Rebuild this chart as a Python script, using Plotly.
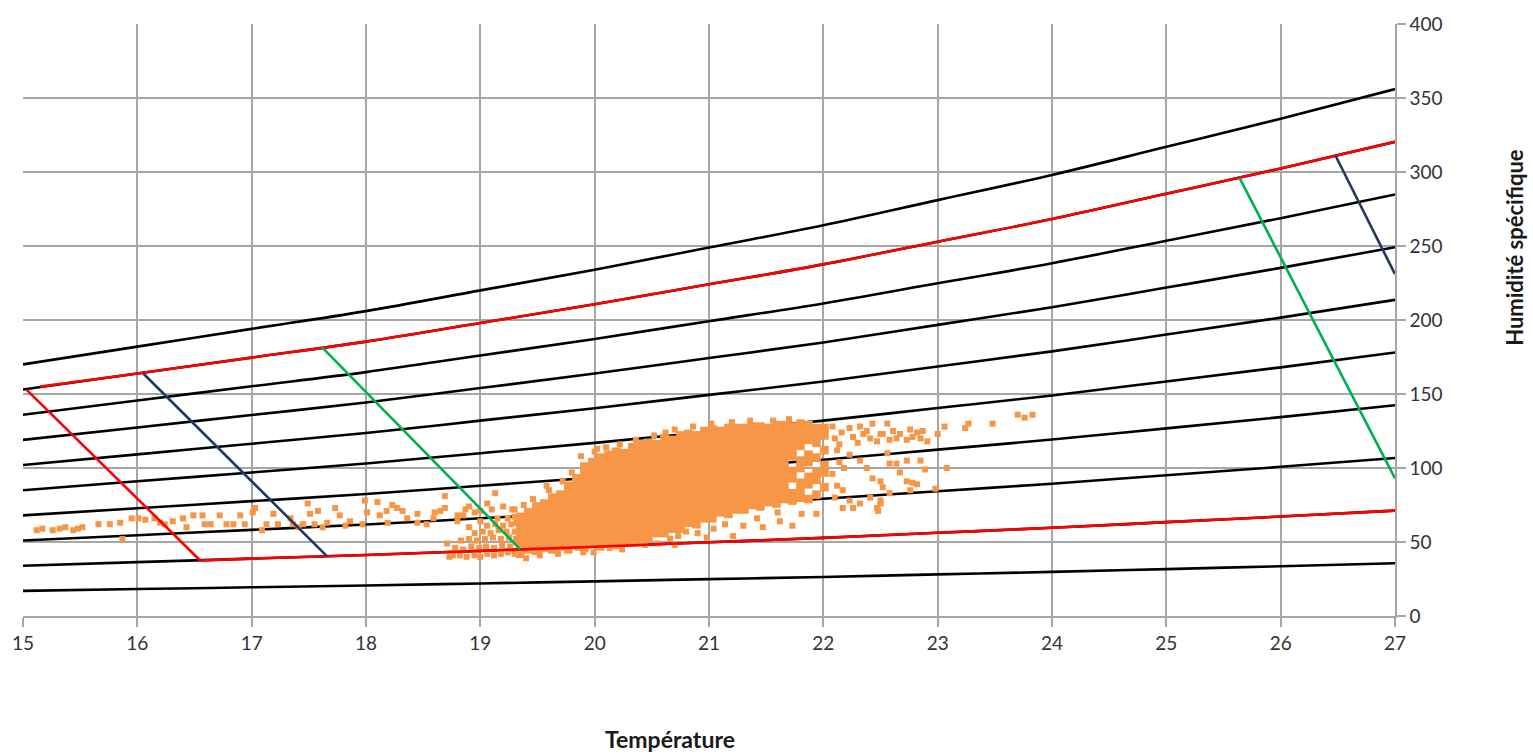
import plotly.graph_objects as go

# ---------------- data ----------------
temps = [15, 16, 17, 18, 19, 20, 21, 22, 23, 24, 25, 26, 27]

rh10 = [17, 18.2, 19.4, 20.6, 22, 23.4, 24.9, 26.4, 28.1, 29.8, 31.7, 33.6, 35.6]
rh20 = [34, 36.4, 38.8, 41.2, 44, 46.8, 49.8, 52.8, 56.2, 59.6, 63.4, 67.2, 71.2]
rh30 = [51, 54.6, 58.2, 61.8, 66, 70.2, 74.7, 79.2, 84.3, 89.4, 95.1, 100.8, 106.8]
rh40 = [68, 72.8, 77.6, 82.4, 88, 93.6, 99.6, 105.6, 112.4, 119.2, 126.8, 134.4, 142.4]
rh50 = [85, 91, 97, 103, 110, 117, 124.5, 132, 140.5, 149, 158.5, 168, 178]
rh60 = [102, 109.2, 116.4, 123.6, 132, 140.4, 149.4, 158.4, 168.6, 178.8, 190.2, 201.6, 213.6]
rh70 = [119, 127.4, 135.8, 144.2, 154, 163.8, 174.3, 184.8, 196.7, 208.6, 221.9, 235.2, 249.2]
rh80 = [136, 145.6, 155.2, 164.8, 176, 187.2, 199.2, 211.2, 224.8, 238.4, 253.6, 268.8, 284.8]
rh90 = [153, 163.8, 174.6, 185.4, 198, 210.6, 224.1, 237.6, 252.9, 268.2, 285.3, 302.4, 320.4]
rh100 = [170, 182, 194, 206, 220, 234, 249, 264, 281, 298, 317, 336, 356]

red_top_x = [15.15, 16, 17, 18, 19, 20, 21, 22, 23, 24, 25, 26, 27]
red_top_y = [155, 163.8, 174.6, 185.4, 198, 210.6, 224.1, 237.6, 252.9, 268.2, 285.3, 302.4, 320.4]
red_bot_x = [16.55, 17, 18, 19, 20, 21, 22, 23, 24, 25, 26, 27]
red_bot_y = [37.5, 38.8, 41.2, 44, 46.8, 49.8, 52.8, 56.2, 59.6, 63.4, 67.2, 71.2]

red_diag_x = [15.03, 16.55]
red_diag_y = [153, 37.5]
navy_left_x = [16.05, 17.66]
navy_left_y = [164, 40.3]
green_left_x = [17.61, 19.35]
green_left_y = [182, 45]
green_right_x = [25.64, 27.0]
green_right_y = [296, 93]
navy_right_x = [26.48, 27.0]
navy_right_y = [311, 231]

# measurements: left tail
tail_x = [15.12, 15.17, 15.26, 15.32, 15.37, 15.44, 15.48, 15.52, 15.66, 15.76,
          15.85, 15.87, 15.95, 16.01, 16.07, 16.15, 16.20, 16.24, 16.31, 16.40,
          16.43, 16.49, 16.57, 16.59, 16.64, 16.72, 16.78, 16.84, 16.90, 16.94,
          17.01, 17.03, 17.09, 17.13, 17.19, 17.23, 17.34, 17.36, 17.41, 17.45,
          17.49, 17.51, 17.55, 17.58, 17.62, 17.66, 17.73, 17.77, 17.82, 17.86,
          17.99, 18.01, 18.10, 18.12, 18.18, 18.23, 18.27, 18.32, 18.36, 18.45,
          18.53, 18.60, 18.65, 18.69, 18.69, 18.71, 18.73, 18.80]
tail_y = [58, 59, 58, 59, 60, 58, 59, 60, 62, 62,
          63, 52, 66, 66, 65, 66, 63, 62, 64, 66,
          60, 68, 68, 62, 62, 68, 62, 62, 68, 62,
          70, 73, 58, 62, 69, 62, 66, 62, 60, 62,
          76, 69, 62, 71, 60, 63, 73, 68, 61, 64,
          78, 70, 77, 68, 71, 75, 73, 71, 66, 63,
          62, 70, 71, 81, 73, 49, 40, 64]

# lower-left cluster
ll_x = [18.76, 18.82, 18.88, 18.95, 19.00, 19.06, 19.12, 19.18, 19.24, 19.30,
        18.78, 18.85, 18.92, 18.99, 19.05, 19.12, 19.19, 19.26,
        18.83, 18.90, 18.97, 19.04, 19.11, 19.18, 19.25, 19.31,
        18.95, 19.02, 19.09, 19.16, 19.23, 19.30,
        19.06, 19.13, 19.20, 19.27, 19.32,
        19.15, 19.24, 19.30, 18.90, 19.00,
        18.80, 18.87, 18.95, 19.10, 19.20, 19.28]
ll_y = [41, 41, 40, 41, 40, 42, 41, 42, 43, 42,
        46, 45, 47, 46, 47, 46, 48, 47,
        51, 52, 51, 52, 53, 52, 53, 52,
        56, 57, 56, 58, 57, 57,
        61, 62, 61, 62, 63,
        66, 66, 67, 60, 64,
        68, 72, 70, 72, 74, 72]

ex_x = [17.97, 18.19, 18.45, 18.90, 19.06, 19.13, 18.59, 18.85, 19.00, 19.68, 20.13, 19.85, 19.99]
ex_y = [62, 63, 69, 74, 76, 83, 66, 68, 71, 42, 46, 46, 43]

# ragged edge points around the core
edge_x = [19.30, 19.38, 19.46, 19.60, 19.72, 19.80, 19.88, 20.00, 20.10, 20.22, 20.36, 20.52,
          20.70, 20.86, 21.02, 21.20, 21.36, 21.56, 21.70, 19.52, 19.90, 20.24, 20.44, 19.40,
          19.58, 20.02, 20.62, 20.80, 21.14, 21.60]
edge_y = [72, 75, 79, 85, 91, 97, 108, 111, 114, 116, 119, 122,
          126, 128, 130, 131, 132, 132, 133, 41, 43, 45, 48, 39,
          88, 113, 124, 57, 62, 70]

# dense core, one list of humidity values per temperature column
core_x = [19.35, 19.42, 19.49, 19.56, 19.63, 19.70, 19.77, 19.84, 19.91, 19.98,
          20.05, 20.12, 20.19, 20.26, 20.33, 20.40, 20.47, 20.54, 20.61, 20.68,
          20.75, 20.82, 20.89, 20.96, 21.03, 21.10, 21.17, 21.24, 21.31, 21.38,
          21.45, 21.52, 21.59, 21.66, 21.73, 21.80, 21.87, 21.94, 22.01]
core_y = [
    [42, 47, 52, 57, 62, 67],
    [45, 50, 55, 60, 65, 70],
    [44, 49, 54, 59, 64, 69, 74],
    [46, 51, 56, 61, 66, 71, 76],
    [45, 50, 55, 60, 65, 70, 75, 80],
    [47, 52, 57, 62, 67, 72, 77, 82],
    [45, 50, 55, 60, 65, 70, 75, 80, 85, 88],
    [48, 53, 58, 63, 68, 73, 78, 83, 88, 93],
    [46, 51, 56, 61, 66, 71, 76, 81, 86, 91, 96, 101],
    [49, 54, 59, 64, 69, 74, 79, 84, 89, 94, 99, 104],
    [47, 52, 57, 62, 67, 72, 77, 82, 87, 92, 97, 102, 107],
    [49, 54, 59, 64, 69, 74, 79, 84, 89, 94, 99, 104, 109],
    [48, 53, 58, 63, 68, 73, 78, 83, 88, 93, 98, 103, 108, 111],
    [50, 55, 60, 65, 70, 75, 80, 85, 90, 95, 100, 105, 110],
    [50, 55, 60, 65, 70, 75, 80, 85, 90, 95, 100, 105, 110, 114],
    [53, 58, 63, 68, 73, 78, 83, 88, 93, 98, 103, 108, 113, 116],
    [53, 58, 63, 68, 73, 78, 83, 88, 93, 98, 103, 108, 113, 117],
    [56, 61, 66, 71, 76, 81, 86, 91, 96, 101, 106, 111, 116],
    [56, 61, 66, 71, 76, 81, 86, 91, 96, 101, 106, 111, 116, 120],
    [59, 64, 69, 74, 79, 84, 89, 94, 99, 104, 109, 114, 119],
    [59, 64, 69, 74, 79, 84, 89, 94, 99, 104, 109, 114, 119, 122],
    [63, 68, 73, 78, 83, 88, 93, 98, 103, 108, 113, 118, 123],
    [62, 67, 72, 77, 82, 87, 92, 97, 102, 107, 112, 117, 122],
    [66, 71, 76, 81, 86, 91, 96, 101, 106, 111, 116, 121, 125],
    [66, 71, 76, 81, 86, 91, 96, 101, 106, 111, 116, 121, 126],
    [70, 75, 80, 85, 90, 95, 100, 105, 110, 115, 120, 125],
    [69, 74, 79, 84, 89, 94, 99, 104, 109, 114, 119, 124, 127],
    [72, 77, 82, 87, 92, 97, 102, 107, 112, 117, 122, 127],
    [72, 77, 82, 87, 92, 97, 102, 107, 112, 117, 122, 127],
    [75, 80, 85, 90, 95, 100, 105, 110, 115, 120, 125, 128],
    [74, 79, 84, 89, 94, 99, 104, 109, 114, 119, 124, 128],
    [77, 82, 87, 92, 97, 102, 107, 112, 117, 122, 127],
    [76, 81, 86, 91, 96, 101, 106, 111, 116, 121, 126, 129],
    [79, 84, 89, 94, 99, 104, 109, 114, 119, 124, 129],
    [78, 83, 93, 98, 108, 113, 118, 123, 128],
    [80, 85, 90, 100, 105, 115, 120, 125, 130],
    [79, 89, 94, 104, 109, 119, 124, 129],
    [82, 92, 97, 107, 117, 122, 127],
    [87, 97, 102, 112, 122, 127],
]

# sparse points under the core
lo_x = [20.51, 20.66, 20.73, 20.90, 21.04, 21.21, 21.30, 21.47, 21.62, 21.73, 21.81,
        21.42, 20.28, 20.38, 20.55, 20.70, 20.98, 21.94, 22.17, 22.48, 22.50]
lo_y = [56, 52, 54, 56, 59, 54, 61, 60, 64, 61, 69,
        66, 62, 49, 49, 48, 53, 69, 73, 71, 76]

# fringe right of the core
fr_x = [22.08, 22.10, 22.12, 22.14, 22.08, 22.12, 22.16, 22.10, 22.14, 22.18]
fr_y = [128, 120, 112, 104, 96, 88, 124, 80, 116, 100]

# sparse points on the right
rs_x = [22.23, 22.32, 22.38, 22.43, 22.50, 22.56, 22.61, 22.64, 22.67, 22.73, 22.78, 22.82,
        22.85, 22.87, 22.91, 22.76, 22.41, 22.47, 22.52, 22.58, 22.35, 22.26, 22.30,
        22.23, 22.32, 22.38, 22.43, 22.50, 22.52, 22.58, 22.64, 22.67, 22.73, 22.73, 22.78,
        22.82, 22.85, 22.89, 22.76, 22.58, 22.47, 22.50, 22.41, 22.32, 22.23, 22.17, 22.26,
        22.98, 23.08, 23.00, 23.06, 23.24, 23.27, 22.56,
        23.48, 23.70, 23.83, 23.76]
rs_y = [127, 128, 125, 130, 123, 130, 125, 120, 123, 119, 121, 124,
        120, 125, 118, 126, 120, 118, 123, 119, 123, 121, 117,
        109, 105, 100, 93, 91, 87, 103, 103, 97, 105, 91, 90,
        89, 105, 99, 85, 83, 73, 78, 80, 76, 78, 85, 73,
        86, 100, 123, 128, 127, 130, 110,
        130, 136, 136, 134]

# ---------------- figure ----------------
LW = 2.6
ORANGE = "#F79646"
fig = go.Figure()

for ys in [rh10, rh20, rh30, rh40, rh50, rh60, rh70, rh80, rh90, rh100]:
    fig.add_trace(go.Scatter(x=temps, y=ys, mode="lines", line=dict(color="#000000", width=LW, shape="spline"),
                             hoverinfo="skip", showlegend=False))

cx_all, cy_all = [], []
for cx, cys in zip(core_x, core_y):
    cx_all += [cx] * len(cys)
    cy_all += cys

fig.add_trace(go.Scatter(x=cx_all, y=cy_all, mode="markers",
                         marker=dict(symbol="square", size=8.6, color=ORANGE, line=dict(width=0)),
                         showlegend=False))

pts_x = tail_x + ll_x + ex_x + edge_x + lo_x + fr_x + rs_x
pts_y = tail_y + ll_y + ex_y + edge_y + lo_y + fr_y + rs_y
fig.add_trace(go.Scatter(x=pts_x, y=pts_y, mode="markers",
                         marker=dict(symbol="square", size=6, color=ORANGE, line=dict(width=0)),
                         showlegend=False))

fig.add_trace(go.Scatter(x=red_top_x, y=red_top_y, mode="lines", line=dict(color="#FF0000", width=LW, shape="spline"), showlegend=False))
fig.add_trace(go.Scatter(x=red_bot_x, y=red_bot_y, mode="lines", line=dict(color="#FF0000", width=LW, shape="spline"), showlegend=False))
fig.add_trace(go.Scatter(x=red_diag_x, y=red_diag_y, mode="lines", line=dict(color="#FF0000", width=LW), showlegend=False))
fig.add_trace(go.Scatter(x=navy_left_x, y=navy_left_y, mode="lines", line=dict(color="#1F3864", width=LW), showlegend=False))
fig.add_trace(go.Scatter(x=navy_right_x, y=navy_right_y, mode="lines", line=dict(color="#1F3864", width=LW), showlegend=False))
fig.add_trace(go.Scatter(x=green_left_x, y=green_left_y, mode="lines", line=dict(color="#00B050", width=LW), showlegend=False))
fig.add_trace(go.Scatter(x=green_right_x, y=green_right_y, mode="lines", line=dict(color="#00B050", width=LW), showlegend=False))

GRID = "#A6A6A6"
TICKFONT = dict(family="Lato", size=19, color="#333333")
fig.update_layout(
    width=1533, height=754, autosize=False,
    margin=dict(l=23, r=138, t=20, b=138),
    paper_bgcolor="white", plot_bgcolor="white",
    xaxis=dict(range=[15, 27], tick0=15, dtick=1, showgrid=True, gridcolor=GRID, gridwidth=1.5,
               showline=True, linecolor=GRID, linewidth=1.5, ticks="outside", ticklen=9,
               tickcolor=GRID, tickwidth=1.5, tickfont=TICKFONT, zeroline=False),
    yaxis=dict(range=[0, 400], tick0=0, dtick=50, side="right", showgrid=True, gridcolor=GRID,
               gridwidth=1.5, showline=True, linecolor=GRID, linewidth=1.5, ticks="outside",
               ticklen=9, tickcolor=GRID, tickwidth=1.5, tickfont=TICKFONT, zeroline=False),
    annotations=[
        dict(text="<b>Température</b>", xref="paper", yref="paper", x=0.4716, y=-0.208,
             xanchor="center", yanchor="middle", showarrow=False,
             font=dict(family="Lato", size=23, color="#1a1a1a")),
        dict(text="<b>Humidité spécifique</b>", xref="paper", yref="paper", x=1.0875, y=0.622,
             xanchor="center", yanchor="middle", showarrow=False, textangle=-90,
             font=dict(family="Lato", size=22, color="#1a1a1a")),
    ],
)

fig.write_html("out.html", config={"displayModeBar": False},
               post_script="document.body.style.margin='0';document.body.style.overflow='hidden';")
